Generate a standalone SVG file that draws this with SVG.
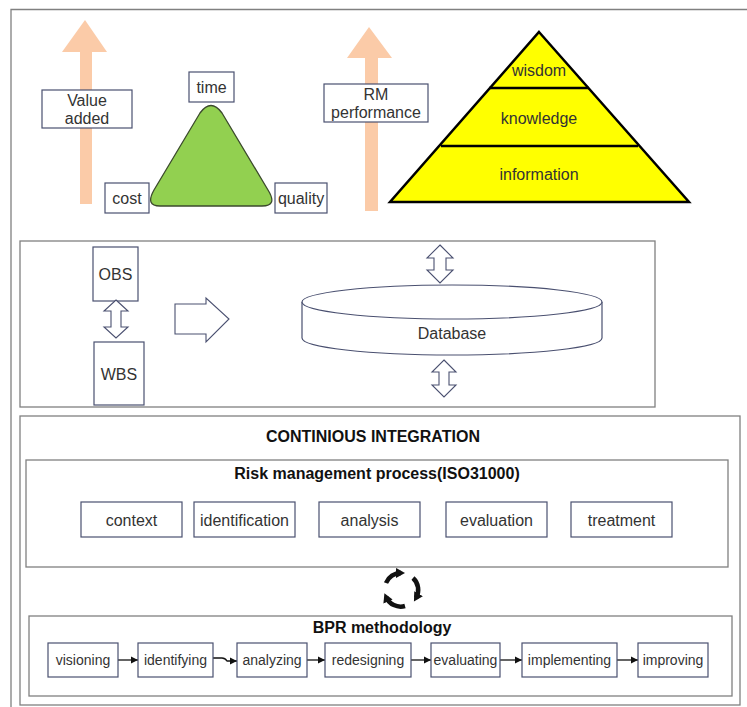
<svg xmlns="http://www.w3.org/2000/svg" width="747" height="707" viewBox="0 0 747 707">
<defs>
<style>
text{font-family:"Liberation Sans",Arial,sans-serif;fill:#333;font-size:16px;text-anchor:middle}
.b{font-weight:bold;fill:#111;font-size:16px}
.s{font-size:14px}
.box{fill:#fff;stroke:#4a5070;stroke-width:1.2}
.panel{fill:none;stroke:#808080;stroke-width:1.3}
.peach{fill:#FBCBA8}
.dbl{fill:#fff;stroke:#4a5070;stroke-width:1.1}
.con{fill:none;stroke:#111;stroke-width:1.3}
</style>
<marker id="ah" markerWidth="8" markerHeight="8" refX="7" refY="4" orient="auto" markerUnits="userSpaceOnUse">
<path d="M0,0.5 L7,4 L0,7.5 Z" fill="#111"/>
</marker>
<marker id="ch" markerWidth="10" markerHeight="10" refX="5" refY="5" orient="auto" markerUnits="userSpaceOnUse">
<path d="M0,0 L9,5 L0,10 Z" fill="#111"/>
</marker>
</defs>
<rect width="747" height="707" fill="#fff"/>
<path class="panel" d="M11,712 V9.5 H752"/>

<!-- top section -->
<g id="value-arrow"><path class="peach" d="M80,204 V52 H62 L85,20 L107,52 H92 V204 Z"/></g>
<g id="value-added"><rect class="box" x="42" y="90" width="90" height="38"/><text x="87" y="106">Value</text><text x="87" y="124">added</text></g>
<g id="triangle"><path d="M200,113 Q211,98 222,113 L268,190 Q278,206 262,206 H160 Q145,206 154,190 Z" fill="#92D050" stroke="#3b4a2c" stroke-width="1.3"/></g>
<g id="time"><rect class="box" x="189" y="72" width="45" height="30"/><text x="211.5" y="93">time</text></g>
<g id="cost"><rect class="box" x="105" y="183" width="44" height="30"/><text x="127" y="204">cost</text></g>
<g id="quality"><rect class="box" x="275" y="183" width="52" height="30"/><text x="301" y="204" font-size="15">quality</text></g>
<g id="rm-arrow"><path class="peach" d="M365,211 V58 H347 L369,27 L392,58 H378 V211 Z"/></g>
<g id="rm-performance"><rect class="box" x="324" y="84" width="104" height="38"/><text x="376" y="100" font-size="15.5">RM</text><text x="376" y="118" font-size="15.5">performance</text></g>
<g id="pyramid">
<path d="M539,32 L689,202 H390 Z" fill="#FFFF00" stroke="#000" stroke-width="2.5" stroke-linejoin="miter"/>
<line x1="489" y1="88" x2="589" y2="88" stroke="#000" stroke-width="2.5"/>
<line x1="441" y1="146" x2="638" y2="146" stroke="#000" stroke-width="2.5"/>
<text x="539" y="76" font-size="15.5">wisdom</text><text x="539" y="124" font-size="15.5">knowledge</text><text x="539" y="180" font-size="15.5">information</text>
</g>

<!-- middle section -->
<rect class="panel" x="20" y="241" width="635" height="166"/>
<g id="obs"><rect class="box" x="93" y="247" width="45" height="54" stroke="#555"/><text x="115.5" y="280">OBS</text></g>
<g id="wbs"><rect class="box" x="94" y="342" width="50" height="63" stroke="#555"/><text x="119" y="380">WBS</text></g>
<g id="database">
<path d="M302,302 V338 A150,17 0 0 0 602,338 V302" fill="#fff" stroke="#4a5070" stroke-width="1.2"/>
<ellipse cx="452" cy="302" rx="150" ry="17" fill="#fff" stroke="#4a5070" stroke-width="1.2"/>
<text x="452" y="339">Database</text>
</g>
<g id="connectors">
<path class="dbl" d="M116,300 L128,311 H121 V327 H128 L116,338 L104,327 H111 V311 H104 Z"/>
<path class="dbl" d="M175,304 H206 V298 L229,319 L206,342 V334 H175 Z"/>
<path class="dbl" d="M440,245 L453,258 H446 V270 H453 L440,283 L427,270 H434 V258 H427 Z"/>
<path class="dbl" d="M444,360 L456,372 H449 V385 H456 L444,397 L432,385 H439 V372 H432 Z"/>
<line class="con" x1="118" y1="660" x2="138" y2="660" marker-end="url(#ah)"/>
<path class="con" d="M213,658 H222 Q225,658 227,661 H237" marker-end="url(#ah)"/>
<line class="con" x1="307" y1="660" x2="325" y2="660" marker-end="url(#ah)"/>
<line class="con" x1="411" y1="660" x2="431" y2="660" marker-end="url(#ah)"/>
<line class="con" x1="500" y1="660" x2="522" y2="660" marker-end="url(#ah)"/>
<line class="con" x1="617" y1="660" x2="638" y2="660" marker-end="url(#ah)"/>
</g>

<!-- bottom section -->
<rect class="panel" x="20" y="416" width="720" height="289"/>
<text class="b" x="373" y="442">CONTINIOUS INTEGRATION</text>
<rect class="panel" x="26" y="460" width="702" height="107"/>
<text class="b" x="377" y="479">Risk management process(ISO31000)</text>
<g id="context"><rect class="box" x="81" y="502" width="101" height="35"/><text x="131.5" y="525.5">context</text></g>
<g id="identification"><rect class="box" x="194" y="502" width="101" height="35"/><text x="244.5" y="525.5">identification</text></g>
<g id="analysis"><rect class="box" x="319" y="502" width="101" height="35"/><text x="369.5" y="525.5">analysis</text></g>
<g id="evaluation"><rect class="box" x="446" y="502" width="101" height="35"/><text x="496.5" y="525.5">evaluation</text></g>
<g id="treatment"><rect class="box" x="571" y="502" width="101" height="35"/><text x="621.5" y="525.5">treatment</text></g>
<g id="cycle" fill="none" stroke="#111" stroke-width="4.5">
<path d="M386,583 A16,16 0 0 1 401,573" marker-end="url(#ch)"/>
<path d="M413,578 A16,16 0 0 1 416,598" marker-end="url(#ch)"/>
<path d="M405,606 A16,16 0 0 1 386,597" marker-end="url(#ch)"/>
</g>
<rect class="panel" x="29" y="616" width="703" height="80"/>
<text class="b" x="382" y="633">BPR methodology</text>
<g id="visioning"><rect class="box" x="48" y="643" width="70" height="34"/><text class="s" x="83" y="665">visioning</text></g>
<g id="identifying"><rect class="box" x="138" y="643" width="75" height="34"/><text class="s" x="175.5" y="665">identifying</text></g>
<g id="analyzing"><rect class="box" x="237" y="643" width="70" height="34"/><text class="s" x="272" y="665">analyzing</text></g>
<g id="redesigning"><rect class="box" x="325" y="643" width="86" height="34"/><text class="s" x="368" y="665">redesigning</text></g>
<g id="evaluating"><rect class="box" x="431" y="643" width="69" height="34"/><text class="s" x="465.5" y="665">evaluating</text></g>
<g id="implementing"><rect class="box" x="522" y="643" width="95" height="34"/><text class="s" x="569.5" y="665">implementing</text></g>
<g id="improving"><rect class="box" x="638" y="643" width="70" height="34"/><text class="s" x="673" y="665">improving</text></g>
</svg>
